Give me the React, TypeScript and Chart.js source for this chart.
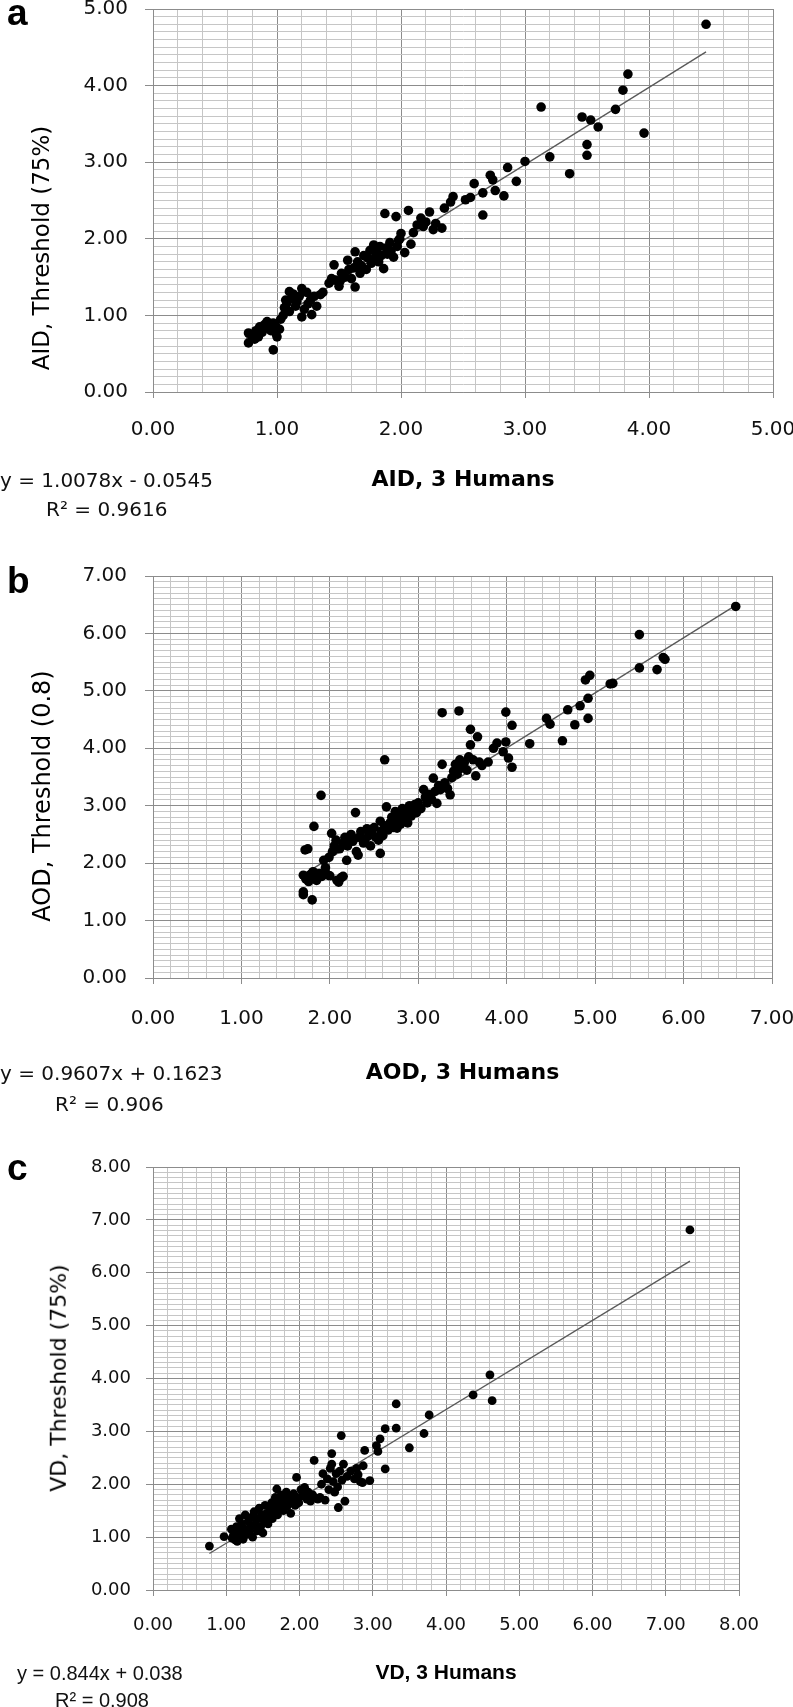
import React, { useEffect, useRef } from 'react';
import { Chart, registerables } from 'chart.js';

Chart.register(...registerables);

// ---------- Panel a: AID ----------
const aidHumans = [
  0.77, 0.77, 0.80, 0.82, 0.83, 0.85, 0.86, 0.88, 0.90, 0.92,
  0.93, 0.95, 0.97, 0.97, 0.99, 0.99, 1.00, 1.02, 1.03, 1.05,
  1.06, 1.07, 1.08, 1.10, 1.10, 1.12, 1.13, 1.15, 1.16, 1.18,
  1.20, 1.20, 1.22, 1.24, 1.25, 1.27, 1.28, 1.30, 1.32, 1.35,
  1.37, 1.42, 1.44, 1.46, 1.47, 1.50, 1.51, 1.52, 1.55, 1.57,
  1.58, 1.60, 1.62, 1.63, 1.63, 1.65, 1.67, 1.68, 1.70, 1.72,
  1.73, 1.75, 1.76, 1.78, 1.79, 1.80, 1.82, 1.83, 1.84, 1.86,
  1.87, 1.88, 1.89, 1.91, 1.92, 1.94, 1.96, 1.97, 1.98, 2.00,
  1.99, 2.03, 2.06, 2.08, 2.10, 2.13, 2.16, 2.18, 2.20, 2.23,
  2.26, 2.28, 2.33, 2.35, 2.40, 2.42, 2.52, 2.56, 2.59, 2.66,
  2.66, 2.72, 2.74, 2.76, 2.83, 2.86, 2.93, 3.00, 3.13, 3.20,
  3.36, 3.46, 3.50, 3.50, 3.53, 3.59, 3.73, 3.79, 3.83, 3.96,
  4.46,
];
const aidThreshold = [
  0.64, 0.77, 0.70, 0.69, 0.80, 0.72, 0.85, 0.78, 0.88, 0.92,
  0.84, 0.80, 0.55, 0.90, 0.77, 0.86, 0.72, 0.82, 0.95, 1.00,
  1.10, 1.20, 1.16, 1.31, 1.05, 1.22, 1.28, 1.12, 1.18, 1.25,
  0.98, 1.35, 1.08, 1.30, 1.15, 1.20, 1.01, 1.25, 1.12, 1.27,
  1.30, 1.42, 1.48, 1.66, 1.46, 1.38, 1.45, 1.55, 1.50, 1.72,
  1.60, 1.48, 1.62, 1.37, 1.83, 1.70, 1.55, 1.65, 1.78, 1.60,
  1.75, 1.85, 1.68, 1.92, 1.75, 1.82, 1.70, 1.90, 1.78, 1.61,
  2.33, 1.88, 1.80, 1.95, 1.84, 1.76, 2.29, 1.90, 1.98, 2.07,
  2.00, 1.82, 2.37, 1.93, 2.08, 2.18, 2.27, 2.16, 2.22, 2.35,
  2.12, 2.20, 2.14, 2.40, 2.48, 2.55, 2.51, 2.54, 2.72, 2.60,
  2.31, 2.83, 2.77, 2.63, 2.56, 2.93, 2.75, 3.01, 3.72, 3.07,
  2.85, 3.59, 3.23, 3.09, 3.55, 3.46, 3.69, 3.94, 4.15, 3.38,
  4.80,
];
const aidTrendX = [0.75, 4.46];
const aidTrendY = [0.70, 4.44];

// ---------- Panel b: AOD ----------
const aodHumans = [
  1.70, 1.70, 1.70, 1.72, 1.73, 1.75, 1.76, 1.78, 1.80, 1.81,
  1.82, 1.83, 1.85, 1.88, 1.90, 1.91, 1.93, 1.95, 1.97, 1.99,
  2.00, 2.02, 2.03, 2.05, 2.07, 2.08, 2.10, 2.11, 2.13, 2.15,
  2.15, 2.17, 2.19, 2.20, 2.22, 2.24, 2.26, 2.29, 2.30, 2.32,
  2.33, 2.35, 2.38, 2.40, 2.42, 2.44, 2.46, 2.48, 2.50, 2.52,
  2.55, 2.57, 2.57, 2.58, 2.60, 2.62, 2.62, 2.64, 2.66, 2.68,
  2.70, 2.72, 2.74, 2.76, 2.76, 2.78, 2.80, 2.82, 2.84, 2.86,
  2.88, 2.90, 2.92, 2.94, 2.96, 2.98, 3.00, 3.03, 3.06, 3.08,
  3.10, 3.12, 3.15, 3.17, 3.19, 3.21, 3.23, 3.25, 3.27, 3.27,
  3.30, 3.33, 3.36, 3.38, 3.40, 3.42, 3.44, 3.46, 3.47, 3.48,
  3.50, 3.52, 3.55, 3.57, 3.59, 3.59, 3.62, 3.65, 3.67, 3.69,
  3.72, 3.79, 3.85, 3.89, 3.96, 3.99, 3.99, 4.02, 4.06, 4.06,
  4.26, 4.45, 4.49, 4.63, 4.69, 4.77, 4.83, 4.89, 4.92, 4.92,
  4.94, 5.17, 5.20, 5.50, 5.50, 5.70, 5.77, 5.79, 6.59,
];
const aodThreshold = [
  1.79, 1.50, 1.45, 2.23, 1.72, 2.25, 1.68, 1.80, 1.36, 1.85,
  2.64, 1.75, 1.70, 1.82, 3.18, 1.77, 2.05, 1.92, 1.80, 2.10,
  1.78, 2.52, 2.20, 2.30, 2.40, 1.70, 1.67, 2.25, 1.75, 1.77,
  2.35, 2.45, 2.05, 2.30, 2.40, 2.50, 2.38, 2.88, 2.20, 2.14,
  2.45, 2.55, 2.35, 2.42, 2.60, 2.48, 2.30, 2.50, 2.62, 2.45,
  2.40, 2.17, 2.73, 2.55, 2.48, 3.80, 2.65, 2.98, 2.58, 2.70,
  2.80, 2.62, 2.90, 2.61, 2.75, 2.85, 2.68, 2.95, 2.78, 2.88,
  2.70, 3.00, 2.82, 2.92, 3.02, 2.88, 3.05, 2.95, 3.28, 3.15,
  3.05, 3.20, 3.11, 3.48, 3.25, 3.04, 3.35, 3.28, 3.72, 4.62,
  3.40, 3.30, 3.19, 3.49, 3.60, 3.72, 3.55, 4.65, 3.80, 3.65,
  3.70, 3.75, 3.62, 3.85, 4.33, 4.06, 3.80, 3.52, 4.20, 3.76,
  3.70, 3.76, 4.00, 4.09, 3.94, 4.63, 4.11, 3.83, 3.67, 4.40,
  4.08, 4.52, 4.42, 4.13, 4.67, 4.41, 4.74, 5.19, 4.87, 4.52,
  5.27, 5.12, 5.13, 5.98, 5.40, 5.37, 5.58, 5.55, 6.47,
];
const aodTrendX = [1.70, 6.58];
const aodTrendY = [1.80, 6.48];

// ---------- Panel c: VD ----------
const vdHumans = [
  0.77, 0.97, 1.07, 1.08, 1.10, 1.12, 1.14, 1.15, 1.17, 1.18,
  1.20, 1.21, 1.23, 1.25, 1.26, 1.28, 1.30, 1.31, 1.33, 1.35,
  1.36, 1.38, 1.40, 1.42, 1.43, 1.45, 1.47, 1.48, 1.50, 1.52,
  1.53, 1.55, 1.57, 1.58, 1.60, 1.62, 1.63, 1.65, 1.67, 1.68,
  1.69, 1.70, 1.72, 1.73, 1.75, 1.77, 1.78, 1.80, 1.82, 1.83,
  1.85, 1.87, 1.88, 1.90, 1.92, 1.94, 1.96, 1.97, 1.99, 2.02,
  2.04, 2.07, 2.10, 2.12, 2.15, 2.18, 2.20, 2.25, 2.28, 2.30,
  2.32, 2.35, 2.38, 2.40, 2.42, 2.44, 2.44, 2.46, 2.48, 2.50,
  2.52, 2.53, 2.55, 2.57, 2.58, 2.60, 2.62, 2.65, 2.70, 2.75,
  2.78, 2.80, 2.83, 2.86, 2.87, 2.89, 2.96, 3.05, 3.07, 3.10,
  3.17, 3.17, 3.32, 3.32, 3.50, 3.70, 3.77, 4.37, 4.60, 4.63,
  7.33,
];
const vdThreshold = [
  0.83, 1.01, 1.15, 0.98, 1.05, 0.95, 1.20, 0.92, 1.10, 1.35,
  1.00, 1.25, 0.96, 1.15, 1.42, 1.05, 1.30, 1.10, 1.20, 1.38,
  1.00, 1.48, 1.25, 1.12, 1.35, 1.55, 1.20, 1.42, 1.08, 1.30,
  1.60, 1.45, 1.25, 1.38, 1.52, 1.65, 1.35, 1.48, 1.75, 1.58,
  1.91, 1.42, 1.68, 1.55, 1.80, 1.62, 1.50, 1.72, 1.85, 1.58,
  1.65, 1.78, 1.45, 1.70, 1.82, 1.60, 2.13, 1.75, 1.65, 1.90,
  1.78, 1.94, 1.72, 1.85, 1.68, 1.80, 2.45, 1.72, 1.75, 2.00,
  2.20, 1.70, 2.10, 1.90, 2.30, 2.58, 2.38, 2.05, 1.85, 2.20,
  1.95, 1.56, 2.25, 2.92, 2.08, 2.38, 1.68, 2.15, 2.25, 2.10,
  2.30, 2.18, 2.05, 2.03, 2.35, 2.64, 2.07, 2.73, 2.62, 2.86,
  3.05, 2.29, 3.52, 3.06, 2.69, 2.96, 3.31, 3.69, 4.07, 3.58,
  6.81,
];
const vdTrendX = [0.77, 7.33];
const vdTrendY = [0.69, 6.22];

// axis ranges / titles
const axisMax = [5, 7, 8];
const xTitles = ['AID, 3 Humans', 'AOD, 3 Humans', 'VD, 3 Humans'];
const yTitles = ['AID, Threshold (75%)', 'AOD, Threshold (0.8)', 'VD, Threshold (75%)'];
const equations = ['y = 1.0078x - 0.0545', 'y = 0.9607x + 0.1623', 'y = 0.844x + 0.038'];
const rSquared = ['R² = 0.9616', 'R² = 0.906', 'R² = 0.908'];
const panelLetters = ['a', 'b', 'c'];

const VERDANA = "'DejaVu Sans', Verdana, sans-serif";
const ARIAL = "'Liberation Sans', Arial, sans-serif";
const MAJOR = '#8c8c8c';
const MINOR = '#c6c6c6';

type Layout = {
  top: number; height: number; padTop: number; padRight: number; xAxisH: number;
  tickSize: number; xPad: number; yPad: number; yTickLen: number;
  titleFont: string; titleSize: number; titlePad: number; r: number;
};

const layouts: Layout[] = [
  { top: 0, height: 520, padTop: 9, padRight: 20, xAxisH: 128, tickSize: 20, xPad: 20, yPad: 17, yTickLen: 8, titleFont: VERDANA, titleSize: 22, titlePad: 27, r: 4.8 },
  { top: 540, height: 600, padTop: 36, padRight: 21, xAxisH: 162, tickSize: 20, xPad: 23, yPad: 18, yTickLen: 8, titleFont: VERDANA, titleSize: 22, titlePad: 54, r: 4.8 },
  { top: 1140, height: 567, padTop: 27, padRight: 54, xAxisH: 117, tickSize: 18, xPad: 19, yPad: 15, yTickLen: 7, titleFont: ARIAL, titleSize: 21, titlePad: 21, r: 4.4 },
];

const seriesX = [aidHumans, aodHumans, vdHumans];
const seriesY = [aidThreshold, aodThreshold, vdThreshold];
const trendX = [aidTrendX, aodTrendX, vdTrendX];
const trendY = [aidTrendY, aodTrendY, vdTrendY];

const isMajor = (v: number) => Math.abs(v - Math.round(v)) < 1e-6;

function buildChart(canvas: HTMLCanvasElement, i: number) {
  const L = layouts[i];
  const gridColor = (ctx: any) => (ctx.tick && isMajor(ctx.tick.value) ? MAJOR : MINOR);
  const tickColor = (ctx: any) => (ctx.tick && isMajor(ctx.tick.value) ? MAJOR : 'rgba(0,0,0,0)');
  const label = (v: any) => (isMajor(Number(v)) ? Number(v).toFixed(2) : '');
  const tickFont = { family: VERDANA, size: L.tickSize };
  return new Chart(canvas, {
    type: 'scatter',
    data: {
      datasets: [
        {
          label: 'points',
          data: seriesX[i].map((x, k) => ({ x, y: seriesY[i][k] })),
          pointRadius: L.r,
          pointBackgroundColor: '#000',
          pointBorderWidth: 0,
          order: 1,
        },
        {
          label: 'trend',
          data: trendX[i].map((x, k) => ({ x, y: trendY[i][k] })),
          showLine: true,
          borderColor: '#595959',
          borderWidth: 1.3,
          pointRadius: 0,
          order: 2,
        },
      ],
    },
    options: {
      animation: false,
      responsive: false,
      devicePixelRatio: 1,
      layout: { padding: { left: 0, top: L.padTop, right: L.padRight, bottom: 0 } },
      plugins: { legend: { display: false }, tooltip: { enabled: false } },
      scales: {
        x: {
          type: 'linear',
          min: 0,
          max: axisMax[i],
          afterFit: (s: any) => { s.height = L.xAxisH; s.paddingLeft = 0; s.paddingRight = 0; },
          grid: { color: gridColor, tickColor, tickLength: 6, lineWidth: 1 },
          border: { display: true, color: MAJOR, width: 1 },
          ticks: {
            stepSize: 0.2, autoSkip: false, maxRotation: 0, minRotation: 0,
            padding: L.xPad, color: '#111', font: tickFont, callback: label,
          },
          title: {
            display: true, text: xTitles[i], color: '#000',
            font: { family: L.titleFont, size: L.titleSize, weight: 'bold' },
            padding: { top: 0, bottom: L.titlePad },
          },
        },
        y: {
          type: 'linear',
          min: 0,
          max: axisMax[i],
          afterFit: (s: any) => { s.width = 153; s.paddingTop = 0; s.paddingBottom = 0; },
          grid: { color: gridColor, tickColor, tickLength: L.yTickLen, lineWidth: 1 },
          border: { display: true, color: MAJOR, width: 1 },
          ticks: {
            stepSize: 0.1, autoSkip: false, padding: L.yPad, color: '#111', font: tickFont, callback: label,
          },
        },
      },
    } as any,
  });
}

function Panel({ i }: { i: number }) {
  const ref = useRef<HTMLCanvasElement>(null);
  useEffect(() => {
    if (!ref.current) return;
    const ch = buildChart(ref.current, i);
    return () => ch.destroy();
  }, [i]);
  const L = layouts[i];
  return (
    <canvas
      ref={ref}
      width={793}
      height={L.height}
      style={{ position: 'absolute', left: 0, top: L.top, width: 793, height: L.height, display: 'block' }}
    />
  );
}

const letterTops = [-6, 562, 1149];
const eqPos = [
  { left: 0, top: 468, rLeft: 46, rTop: 497, font: VERDANA },
  { left: 0, top: 1061, rLeft: 55, rTop: 1092, font: VERDANA },
  { left: 17, top: 1661, rLeft: 55, rTop: 1688, font: ARIAL },
];
const yTitlePos = [
  { cx: 42, cy: 248, size: 23 },
  { cx: 42, cy: 796, size: 24 },
  { cx: 59, cy: 1378, size: 22 },
];

export default function App() {
  const abs: React.CSSProperties = { position: 'absolute', whiteSpace: 'nowrap', margin: 0 };
  return (
    <div style={{ position: 'absolute', left: 0, top: 0, width: 793, height: 1707, overflow: 'hidden', background: '#fff' }}>
      {[0, 1, 2].map((i) => (
        <Panel key={'p' + i} i={i} />
      ))}
      {panelLetters.map((t, i) => (
        <div key={'l' + i} style={{ ...abs, left: 7, top: letterTops[i], fontFamily: ARIAL, fontWeight: 'bold', fontSize: 37, lineHeight: '37px', color: '#000' }}>
          {t}
        </div>
      ))}
      {equations.map((t, i) => (
        <React.Fragment key={'e' + i}>
          <div style={{ ...abs, left: eqPos[i].left, top: eqPos[i].top, fontFamily: eqPos[i].font, fontSize: 20, lineHeight: '24px', color: '#111' }}>{t}</div>
          <div style={{ ...abs, left: eqPos[i].rLeft, top: eqPos[i].rTop, fontFamily: eqPos[i].font, fontSize: 20, lineHeight: '24px', color: '#111' }}>{rSquared[i]}</div>
        </React.Fragment>
      ))}
      {yTitles.map((t, i) => (
        <div
          key={'y' + i}
          style={{
            ...abs,
            left: yTitlePos[i].cx,
            top: yTitlePos[i].cy,
            transform: 'translate(-50%, -50%) rotate(-90deg)',
            fontFamily: VERDANA,
            fontSize: yTitlePos[i].size,
            lineHeight: 1.2,
            color: '#000',
          }}
        >
          {t}
        </div>
      ))}
    </div>
  );
}
